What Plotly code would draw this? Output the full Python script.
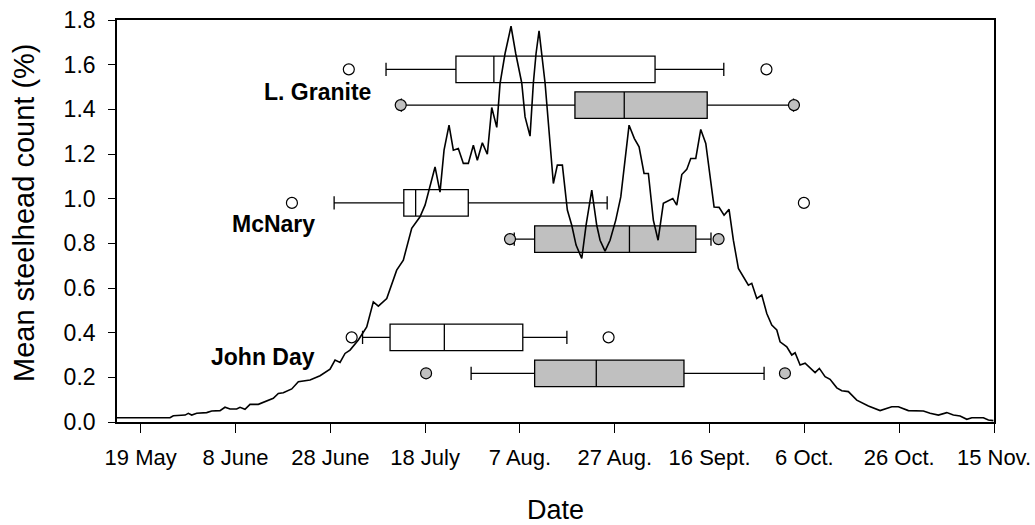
import plotly.graph_objects as go

# ---------------- data ----------------
# x is days after 19 May
line_day = [-5.0, 6.18, 6.88, 9.37, 10.04, 10.76, 11.81, 13.92, 14.98, 16.73, 17.78, 18.84, 20.25,
            20.95, 22.0, 23.06, 24.81, 27.97, 29.03, 30.08, 31.86, 33.25, 35.72, 37.83, 39.94, 41.0,
            42.05, 43.1, 44.16, 45.91, 47.68, 49.07, 50.13, 51.9, 54.0, 55.4, 57.17, 58.92, 59.98,
            61.03, 62.09, 63.14, 63.99, 65.04, 65.95, 67.0, 68.06, 69.11, 70.17, 71.01, 72.07, 73.12,
            74.05, 75.11, 75.8, 76.86, 78.12, 79.11, 79.81, 80.38, 81.08, 82.13, 82.83, 83.4, 84.03,
            84.6, 85.3, 87.05, 87.89, 88.95, 90.0, 90.93, 91.84, 93.04, 93.95, 95.15, 96.2, 96.9,
            97.95, 99.01, 100.21, 101.27, 103.02, 104.14, 105.13, 106.18, 107.09, 108.14, 109.14,
            110.25, 112.24, 113.08, 114.14, 115.19, 116.03, 117.09, 118.14, 119.2, 120.95, 122.0,
            123.06, 124.11, 125.02, 126.08, 127.13, 128.19, 128.9, 129.96, 131.01, 132.07, 133.12,
            134.18, 134.87, 136.29, 137.34, 138.04, 139.1, 140.15, 142.26, 143.16, 144.37, 145.42,
            146.84, 147.89, 149.28, 151.05, 153.5, 155.97, 158.44, 159.83, 161.94, 165.11, 166.52,
            168.27, 170.04, 171.43, 172.85, 174.26, 175.32, 177.76, 178.82, 179.87]
line_value = [0.019, 0.019, 0.028, 0.031, 0.039, 0.031, 0.039, 0.042, 0.049, 0.051, 0.066, 0.058, 0.058,
              0.066, 0.057, 0.079, 0.079, 0.106, 0.128, 0.131, 0.148, 0.180, 0.188, 0.207, 0.237, 0.277,
              0.267, 0.307, 0.322, 0.367, 0.426, 0.538, 0.519, 0.553, 0.680, 0.725, 0.867, 0.919, 0.971,
              1.060, 1.142, 1.029, 1.217, 1.329, 1.217, 1.225, 1.158, 1.158, 1.239, 1.172, 1.250, 1.199,
              1.408, 1.319, 1.515, 1.650, 1.772, 1.650, 1.584, 1.518, 1.366, 1.280, 1.518, 1.650, 1.751,
              1.650, 1.518, 1.068, 1.150, 1.150, 0.949, 0.881, 0.792, 0.732, 0.881, 1.038, 0.881, 0.814,
              0.765, 0.814, 0.904, 1.008, 1.329, 1.269, 1.232, 1.113, 1.113, 0.904, 0.814,
              0.979, 1.001, 0.971, 1.108, 1.131, 1.180, 1.180, 1.310, 1.247, 0.963, 0.961,
              0.926, 0.952, 0.814, 0.688, 0.650, 0.613, 0.621, 0.553, 0.568, 0.486, 0.434,
              0.412, 0.359, 0.337, 0.300, 0.310, 0.255, 0.263, 0.221, 0.240, 0.203, 0.191,
              0.153, 0.140, 0.136, 0.098, 0.072, 0.051, 0.068, 0.068, 0.051, 0.049, 0.039,
              0.031, 0.042, 0.031, 0.027, 0.012, 0.019, 0.019, 0.009, 0.006]

sites = ["L. Granite", "McNary", "John Day"]

# white (open) boxes
white_pos = [1.579, 0.981, 0.379]
white_low_out = [43.9, 31.9, 44.5]
white_lowerfence = [51.75, 40.8, 46.8]
white_q1 = [66.5, 55.5, 52.6]
white_median = [74.5, 58.0, 64.05]
white_q3 = [108.5, 69.1, 80.6]
white_upperfence = [123.0, 98.4, 89.9]
white_high_out = [132.0, 139.9, 98.7]

# grey (filled) boxes
grey_pos = [1.419, 0.819, 0.218]
grey_low_out = [54.85, 77.9, 60.2]
grey_lowerfence = [55.0, 78.8, 69.7]
grey_q1 = [91.6, 83.1, 83.1]
grey_median = [102.0, 103.1, 96.1]
grey_q3 = [119.5, 117.1, 114.6]
grey_upperfence = [137.7, 120.3, 131.5]
grey_high_out = [137.8, 121.9, 135.9]

site_label_day = [37.2, 28.1, 25.8]
site_label_value = [1.477, 0.886, 0.292]

tick_days = [0, 20, 40, 60, 80, 100, 120, 140, 160, 180]
tick_labels = ["19 May", "8 June", "28 June", "18 July", "7 Aug.", "27 Aug.",
               "16 Sept.", "6 Oct.", "26 Oct.", "15 Nov."]
y_ticks = [0.0, 0.2, 0.4, 0.6, 0.8, 1.0, 1.2, 1.4, 1.6, 1.8]

FONT = "Arial, Liberation Sans, sans-serif"
GREY = "#c0c0c0"

fig = go.Figure()

fig.add_trace(go.Scatter(x=line_day, y=line_value, mode="lines",
                         line=dict(color="black", width=1.6), showlegend=False,
                         hoverinfo="skip"))


def add_boxes(pos, lo_out, lf, q1, med, q3, uf, hi_out, fill):
    for i in range(len(pos)):
        fig.add_trace(go.Box(
            orientation="h", y=[pos[i]], q1=[q1[i]], median=[med[i]], q3=[q3[i]],
            lowerfence=[lf[i]], upperfence=[uf[i]], width=0.119,
            fillcolor=fill, line=dict(color="black", width=1.3),
            whiskerwidth=0.5, boxpoints=False, showlegend=False, hoverinfo="skip"))
        fig.add_trace(go.Scatter(
            x=[lo_out[i], hi_out[i]], y=[pos[i], pos[i]], mode="markers",
            marker=dict(size=11, color=fill, line=dict(color="black", width=1.2)),
            showlegend=False, hoverinfo="skip"))


add_boxes(white_pos, white_low_out, white_lowerfence, white_q1, white_median, white_q3,
          white_upperfence, white_high_out, "white")
add_boxes(grey_pos, grey_low_out, grey_lowerfence, grey_q1, grey_median, grey_q3,
          grey_upperfence, grey_high_out, GREY)

for name, dx, vy in zip(sites, site_label_day, site_label_value):
    fig.add_annotation(x=dx, y=vy, text="<b>%s</b>" % name, showarrow=False,
                       font=dict(family=FONT, size=23, color="black"),
                       xanchor="center", yanchor="middle")

fig.add_annotation(x=0.5, y=-0.219, xref="paper", yref="paper", text="Date", showarrow=False,
                   font=dict(family=FONT, size=27, color="black"), xanchor="center", yanchor="middle")
fig.add_annotation(x=-0.106, y=0.52, xref="paper", yref="paper", text="Mean steelhead count (%)",
                   textangle=-90, showarrow=False,
                   font=dict(family=FONT, size=29, color="black"), xanchor="center", yanchor="middle")

fig.update_layout(
    width=1035, height=525,
    margin=dict(l=117, r=41, t=20, b=103),
    paper_bgcolor="white", plot_bgcolor="white",
    font=dict(family=FONT, color="black"),
    boxmode="overlay", hovermode=False,
)
fig.update_xaxes(range=[-5, 180], tickvals=tick_days, ticktext=tick_labels,
                 ticks="outside", ticklen=9, tickwidth=1.3, tickcolor="black",
                 showline=True, linecolor="black", linewidth=1.6, mirror=True,
                 showgrid=False, zeroline=False, tickfont=dict(size=22),
                 ticklabelstandoff=6, automargin=False, ticklabeloverflow="allow")
fig.update_yaxes(range=[0, 1.8], tickvals=y_ticks, tickformat=".1f",
                 ticks="outside", ticklen=7, tickwidth=1.3, tickcolor="black",
                 showline=True, linecolor="black", linewidth=1.6, mirror=True,
                 showgrid=False, zeroline=False, tickfont=dict(size=23),
                 ticklabelstandoff=8, automargin=False, ticklabeloverflow="allow")

# remove the browser's default 8px page margin so the 1035x525 figure fills the window
fig.write_html("out.html", config={"displayModeBar": False},
               post_script="document.body.style.margin='0';document.body.style.overflow='hidden';")
